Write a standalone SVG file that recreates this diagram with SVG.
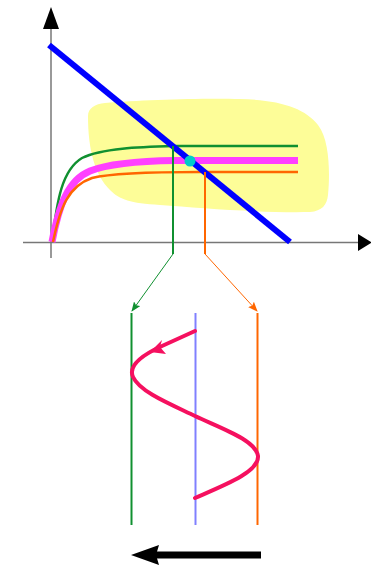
<svg xmlns="http://www.w3.org/2000/svg" width="371" height="567" viewBox="0 0 371 567">
<style>
.axis{stroke:#777;stroke-width:1.5;fill:none}
.g{stroke:#109030;fill:none}
.o{stroke:#ff6600;fill:none}
</style>
<defs>
<marker id="ag" markerWidth="10" markerHeight="8" refX="9" refY="4" orient="auto" markerUnits="userSpaceOnUse"><path d="M0,0 L10,4 L0,8 L2,4 Z" fill="#109030"/></marker>
<marker id="ao" markerWidth="10" markerHeight="8" refX="9" refY="4" orient="auto" markerUnits="userSpaceOnUse"><path d="M0,0 L10,4 L0,8 L2,4 Z" fill="#ff6600"/></marker>
</defs>
<rect width="371" height="567" fill="#fff"/>
<g id="blob">
<path d="M88,116 C88,108 95,104 105,103 C140,100 200,98 240,99 C280,100 305,108 318,125 C330,140 330,175 328,195 C327,205 322,211 310,212 C260,213 200,208 160,205 C130,203 120,200 110,190 C95,175 88,150 88,116 Z" fill="#fdfd98"/>
</g>
<g id="axes">
<line class="axis" x1="51" y1="258" x2="51" y2="26"/>
<polygon points="51,7 43,29 59,29" fill="#000"/>
<line class="axis" x1="23" y1="242.5" x2="360" y2="242.5"/>
<polygon points="372,242.5 358,234 358,251" fill="#000"/>
</g>
<g id="curves">
<path class="g" stroke-width="2.5" d="M52,242 C57,200 62,170 82,158 C102,148 140,147 175,146 L298,146"/>
<path stroke="#ff40ff" stroke-width="7" fill="none" d="M52,242 C59,205 68,180 90,171 C110,163 140,161 175,160.5 L298,160.5"/>
<path class="o" stroke-width="2.5" d="M53,242 C60,208 68,186 92,178 C112,173 150,172 200,172 L298,172"/>
</g>
<g id="budget">
<line x1="49" y1="45" x2="290" y2="242" stroke="#0000ff" stroke-width="6"/>
</g>
<g id="dot"><circle cx="190" cy="161" r="5.5" fill="#00cccc"/></g>
<g id="connectors">
<path class="g" stroke-width="2" d="M173,146 L173,254"/>
<path class="o" stroke-width="2" d="M205,172 L205,254"/>
<path class="g" stroke-width="1" d="M173,254 L132,311" marker-end="url(#ag)"/>
<path class="o" stroke-width="1" d="M205,254 L257,311" marker-end="url(#ao)"/>
</g>
<g id="lines">
<line x1="131.5" y1="313" x2="131.5" y2="525" stroke="#109030" stroke-width="2"/>
<line x1="195.5" y1="313" x2="195.5" y2="525" stroke="#8080ff" stroke-width="2"/>
<line x1="257.5" y1="313" x2="257.5" y2="525" stroke="#ff6600" stroke-width="2"/>
</g>
<g id="wave">
<path d="M195,331 L162,346 C140,356 128,366 133,377 C140,392 170,404 195,416 C220,428 256,440 258,456 C259,472 225,485 195,498" stroke="#f5105f" stroke-width="4" fill="none" stroke-linecap="round"/>
<polygon points="150,352 162,340 160,347 166,354" fill="#f5105f"/>
</g>
<g id="move">
<line x1="261" y1="555" x2="155" y2="555" stroke="#000" stroke-width="7"/>
<polygon points="131,555 159,545 156,555 159,565" fill="#000"/>
</g>
</svg>
